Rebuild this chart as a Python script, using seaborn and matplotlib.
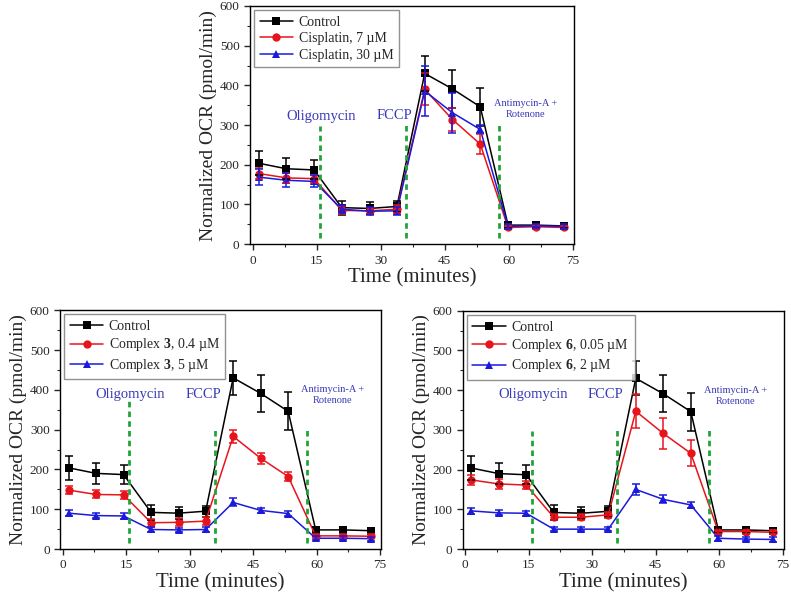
import numpy as np
import pandas as pd
import matplotlib
matplotlib.use("Agg")
import matplotlib.pyplot as plt
import seaborn as sns

# Measurement times (minutes)
time_min = [1.4, 7.9, 14.4, 20.9, 27.4, 33.8, 40.3, 46.8, 53.3, 59.8, 66.3, 72.8]

# Control (same in all panels)
control_mean = [204, 190, 187, 92, 90, 95, 430, 391, 346, 48, 48, 46]
control_err = [30, 26, 24, 18, 15, 14, 43, 47, 48, 8, 7, 6]

# Cisplatin panel
cis7_mean = [178, 167, 165, 85, 84, 88, 390, 314, 252, 42, 44, 42]
cis7_err = [15, 12, 10, 10, 8, 10, 40, 30, 25, 5, 5, 5]
cis30_mean = [169, 161, 158, 88, 83, 84, 386, 331, 289, 45, 46, 45]
cis30_err = [20, 18, 15, 10, 10, 10, 62, 50, 10, 6, 6, 6]

# Complex 3 panel
c3a_mean = [148, 137, 136, 66, 67, 70, 283, 228, 182, 33, 33, 32]
c3a_err = [11, 10, 10, 10, 10, 10, 17, 14, 12, 5, 5, 5]
c3b_mean = [90, 84, 83, 49, 48, 49, 117, 97, 89, 27, 27, 26]
c3b_err = [8, 7, 7, 6, 6, 6, 10, 7, 7, 5, 5, 5]

# Complex 6 panel
c6a_mean = [174, 164, 161, 80, 80, 86, 347, 291, 241, 44, 44, 42]
c6a_err = [12, 12, 10, 8, 8, 8, 43, 38, 33, 5, 5, 5]
c6b_mean = [96, 91, 90, 50, 50, 50, 150, 125, 111, 27, 25, 24]
c6b_err = [8, 6, 6, 5, 5, 5, 13, 10, 8, 6, 6, 6]

# Injection times
injection_times = [15.7, 35.9, 57.7]
injection_labels = ["Oligomycin", "FCCP", "Antimycin-A +\nRotenone"]

sns.set_style("ticks")
plt.rcParams['font.family'] = ['Liberation Serif', 'DejaVu Serif']
plt.rcParams['mathtext.fontset'] = 'custom'
plt.rcParams['mathtext.rm'] = 'Liberation Serif'
plt.rcParams['mathtext.bf'] = 'Liberation Serif:bold'

colors = ["black", "#e8141c", "#1a1adc"]
markers = ["s", "o", "^"]
text_blue = "#3a3ab8"
green = "#22a33a"

panels = [
    {
        "rect": [0.316, 0.591, 0.41, 0.399],
        "names": ["Control", "Cisplatin, 7 \u00b5M", "Cisplatin, 30 \u00b5M"],
        "means": [control_mean, cis7_mean, cis30_mean],
        "errs": [control_err, cis7_err, cis30_err],
        "vtops": [297, 302, 306],
        "label_y": [322, 323, 340],
    },
    {
        "rect": [0.076, 0.0804, 0.406, 0.400],
        "names": ["Control", "Complex $\\mathbf{3}$, 0.4 \u00b5M", "Complex $\\mathbf{3}$, 5 \u00b5M"],
        "means": [control_mean, c3a_mean, c3b_mean],
        "errs": [control_err, c3a_err, c3b_err],
        "vtops": [371, 299, 303],
        "label_y": [389, 389, 386],
    },
    {
        "rect": [0.585, 0.0804, 0.406, 0.399],
        "names": ["Control", "Complex $\\mathbf{6}$, 0.05 \u00b5M", "Complex $\\mathbf{6}$, 2 \u00b5M"],
        "means": [control_mean, c6a_mean, c6b_mean],
        "errs": [control_err, c6a_err, c6b_err],
        "vtops": [297, 300, 306],
        "label_y": [390, 390, 385],
    },
]

fig = plt.figure(figsize=(7.91, 5.97), dpi=100)

for p in panels:
    ax = fig.add_axes(p["rect"])
    rows = []
    for name, vals in zip(p["names"], p["means"]):
        for t, v in zip(time_min, vals):
            rows.append({"Time": t, "OCR": v, "Group": name})
    df = pd.DataFrame(rows)

    sns.lineplot(data=df, x="Time", y="OCR", hue="Group", style="Group",
                 hue_order=p["names"], style_order=p["names"],
                 palette=colors, markers=markers, dashes=False,
                 markersize=6, markeredgewidth=0, linewidth=1.1, ax=ax)

    for vals, err, c in zip(p["means"], p["errs"], colors):
        ax.errorbar(time_min, vals, yerr=err, fmt="none", ecolor=c,
                    elinewidth=1.1, capsize=3, capthick=1.1)

    for xi, top in zip(injection_times, p["vtops"]):
        ax.plot([xi, xi], [15, top], color=green, linestyle=(0, (2, 1.5)), linewidth=2)

    ax.text(16.0, p["label_y"][0], injection_labels[0], color=text_blue,
            fontsize=10.5, ha="center", va="center")
    ax.text(33.2, p["label_y"][1], injection_labels[1], color=text_blue,
            fontsize=10.5, ha="center", va="center")
    ax.text(63.8, p["label_y"][2], injection_labels[2], color=text_blue,
            fontsize=7.5, ha="center", va="center", linespacing=1.3)

    ax.set_xlim(-0.6, 75.3)
    ax.set_ylim(0, 600)
    ax.set_xticks([0, 15, 30, 45, 60, 75])
    ax.set_xticks([7.5, 22.5, 37.5, 52.5, 67.5], minor=True)
    ax.set_yticks([0, 100, 200, 300, 400, 500, 600])
    ax.set_yticks([50, 150, 250, 350, 450, 550], minor=True)
    ax.tick_params(axis="both", which="major", labelsize=9.5, direction="out", length=4, width=1)
    ax.tick_params(axis="both", which="minor", direction="out", length=2.5, width=0.8)
    for s in ax.spines.values():
        s.set_visible(True)
        s.set_linewidth(1)
        s.set_color("black")
    ax.set_xlabel("Time (minutes)", fontsize=15, labelpad=1)
    ax.set_ylabel("Normalized OCR (pmol/min)", fontsize=14, labelpad=2)

    handles, labels = ax.get_legend_handles_labels()
    leg = ax.legend(handles, labels, loc="upper left", fontsize=10,
                    frameon=True, fancybox=False, edgecolor="#777777",
                    borderaxespad=0.3, handlelength=2.4, handletextpad=0.4,
                    borderpad=0.4, labelspacing=0.25)
    leg.get_frame().set_linewidth(1)

fig.savefig("out.png", dpi=100)
